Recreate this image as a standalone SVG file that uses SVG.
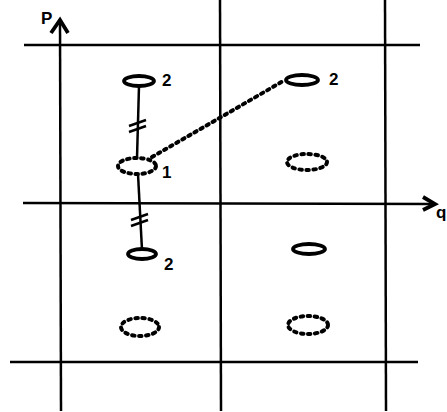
<svg xmlns="http://www.w3.org/2000/svg" width="447" height="412" viewBox="0 0 447 412">
<style>
.g{stroke:#000;stroke-width:2.5;fill:none}
.s{stroke:#000;stroke-width:3.8;fill:none}
.a{stroke:#000;stroke-width:3.8;fill:none;stroke-linejoin:miter}
.d{stroke:#000;stroke-width:4;fill:none;stroke-dasharray:2.5 4.5;stroke-linecap:round}
.t{font-family:"Liberation Sans",Arial,sans-serif;font-weight:bold;font-size:17px;fill:#000}
</style>
<g id="grid">
<line class="g" x1="24" y1="45" x2="420" y2="45"/>
<line class="g" x1="10" y1="362" x2="418" y2="362"/>
<line class="g" x1="220" y1="0" x2="221" y2="411"/>
<line class="g" x1="385" y1="0" x2="386" y2="411"/>
</g>
<g id="axis-p">
<line class="g" x1="60" y1="20" x2="61" y2="411"/>
<polyline class="a" points="51,33 60,20 68,33"/>
<text class="t" x="41" y="24" font-size="15">P</text>
</g>
<g id="axis-q">
<line class="g" x1="23" y1="203" x2="434" y2="204"/>
<polyline class="a" points="423,197 435,204 423,210"/>
<text class="t" x="436" y="218" font-size="15">q</text>
</g>
<g id="connectors">
<line class="g" x1="139" y1="86" x2="137" y2="158"/>
<line class="g" x1="129" y1="126" x2="146" y2="120"/>
<line class="g" x1="129" y1="132" x2="146" y2="126"/>
<line class="g" x1="138" y1="174" x2="142" y2="250"/>
<line class="g" x1="131" y1="220" x2="148" y2="214"/>
<line class="g" x1="131" y1="226" x2="148" y2="220"/>
<line class="d" x1="152" y1="157" x2="285" y2="80"/>
</g>
<g id="n1">
<ellipse class="d" cx="137" cy="166" rx="19" ry="8"/>
<text class="t" x="162" y="178">1</text>
</g>
<g id="n2a">
<ellipse class="s" cx="139" cy="81" rx="15" ry="5"/>
<text class="t" x="162" y="86">2</text>
</g>
<g id="n2b">
<ellipse class="s" cx="302" cy="80" rx="16" ry="5"/>
<text class="t" x="329" y="85">2</text>
</g>
<g id="n2c">
<ellipse class="s" cx="142" cy="254" rx="14" ry="5"/>
<text class="t" x="164" y="270">2</text>
</g>
<g id="n3">
<ellipse class="s" cx="309" cy="249" rx="16" ry="5"/>
</g>
<g id="d1">
<ellipse class="d" cx="307" cy="162" rx="20" ry="8"/>
</g>
<g id="d2">
<ellipse class="d" cx="140" cy="327" rx="19" ry="9"/>
</g>
<g id="d3">
<ellipse class="d" cx="308" cy="325" rx="20" ry="9"/>
</g>
</svg>
